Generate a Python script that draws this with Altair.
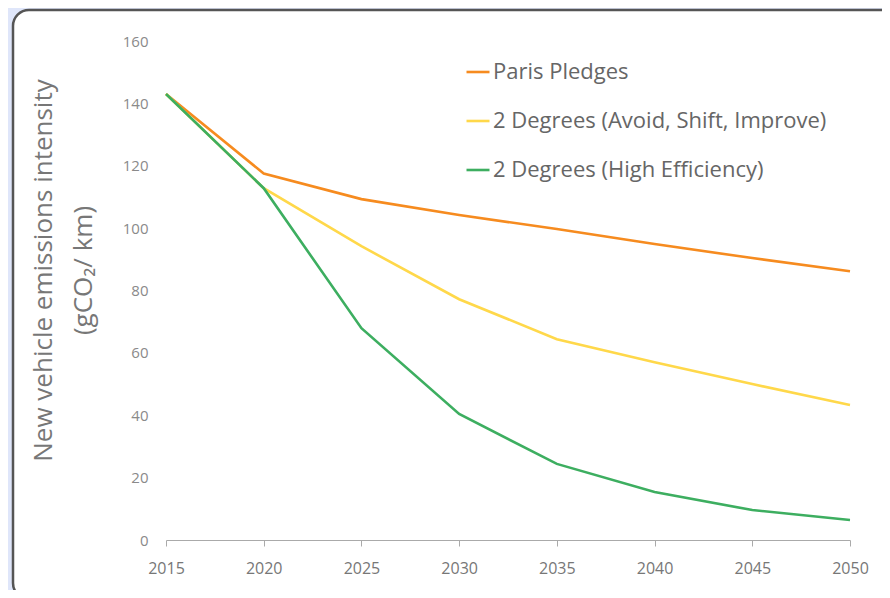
import altair as alt
import pandas as pd

years = [2015, 2020, 2025, 2030, 2035, 2040, 2045, 2050]
paris = [143, 117.5, 109.3, 104.2, 99.7, 94.9, 90.4, 86.2]
avoid_shift = [143, 112.8, 94.2, 77.2, 64.4, 57.0, 50.0, 43.3]
high_eff = [143, 112.8, 67.9, 40.4, 24.4, 15.4, 9.6, 6.4]

series_names = ["Paris Pledges", "2 Degrees (Avoid, Shift, Improve)", "2 Degrees (High Efficiency)"]
series_colors = ["#F68B1F", "#FFD84A", "#3DAE60"]
y_ticks = [0, 20, 40, 60, 80, 100, 120, 140, 160]

rows = []
for name, vals in zip(series_names, [paris, avoid_shift, high_eff]):
    for yr, v in zip(years, vals):
        rows.append({"year": yr, "value": v, "series": name})
df = pd.DataFrame(rows)

FONT = "Open Sans"

card = alt.Chart(pd.DataFrame({"a": [0]})).mark_rect(
    fill="white", stroke="#555555", strokeWidth=2.5, cornerRadius=16
).encode(
    x=alt.value(-153), x2=alt.value(760), y=alt.value(-31), y2=alt.value(558)
)

lines = alt.Chart(df).mark_line(strokeWidth=2.6).encode(
    x=alt.X("year:Q", scale=alt.Scale(domain=[2015, 2050], nice=False, zero=False),
            axis=alt.Axis(values=years, format="d", title=None, grid=False, zindex=1,
                          domainColor="#aaaaaa", tickColor="#aaaaaa", tickSize=6,
                          labelFontSize=16, labelColor="#777777", labelPadding=14,
                          labelFlush=False, labelFont=FONT)),
    y=alt.Y("value:Q", scale=alt.Scale(domain=[0, 160], nice=False),
            axis=alt.Axis(values=y_ticks, grid=False, domain=False, ticks=False, zindex=1,
                          labelFontSize=15, labelColor="#8a8a8a", labelPadding=18,
                          labelFont=FONT,
                          title=["New vehicle emissions intensity", "(gCO₂/ km)"],
                          titleFontSize=26, titleFontWeight="normal", titleColor="#777777",
                          titleFont=FONT, titleLineHeight=40, titlePadding=26,
                          titleY=229)),
    color=alt.Color("series:N", sort=series_names,
                    scale=alt.Scale(domain=series_names, range=series_colors),
                    legend=alt.Legend(title=None, orient="none", legendX=299, legendY=18,
                                      symbolType="stroke", symbolSize=529, symbolStrokeWidth=2.6,
                                      labelFontSize=22, labelColor="#666666", labelFont=FONT,
                                      labelLimit=500, labelOffset=2, rowPadding=25, zindex=1)),
    order=alt.Order("year:Q"),
)

chart = alt.layer(card, lines).properties(
    width=684, height=499,
    background="#DFE6FA",
    autosize=alt.AutoSizeParams(type="none"),
    padding={"left": 158, "top": 33, "right": 32, "bottom": 50},
).configure_view(stroke=None)

chart.save("out.html", embed_options={"renderer": "svg", "actions": False})
